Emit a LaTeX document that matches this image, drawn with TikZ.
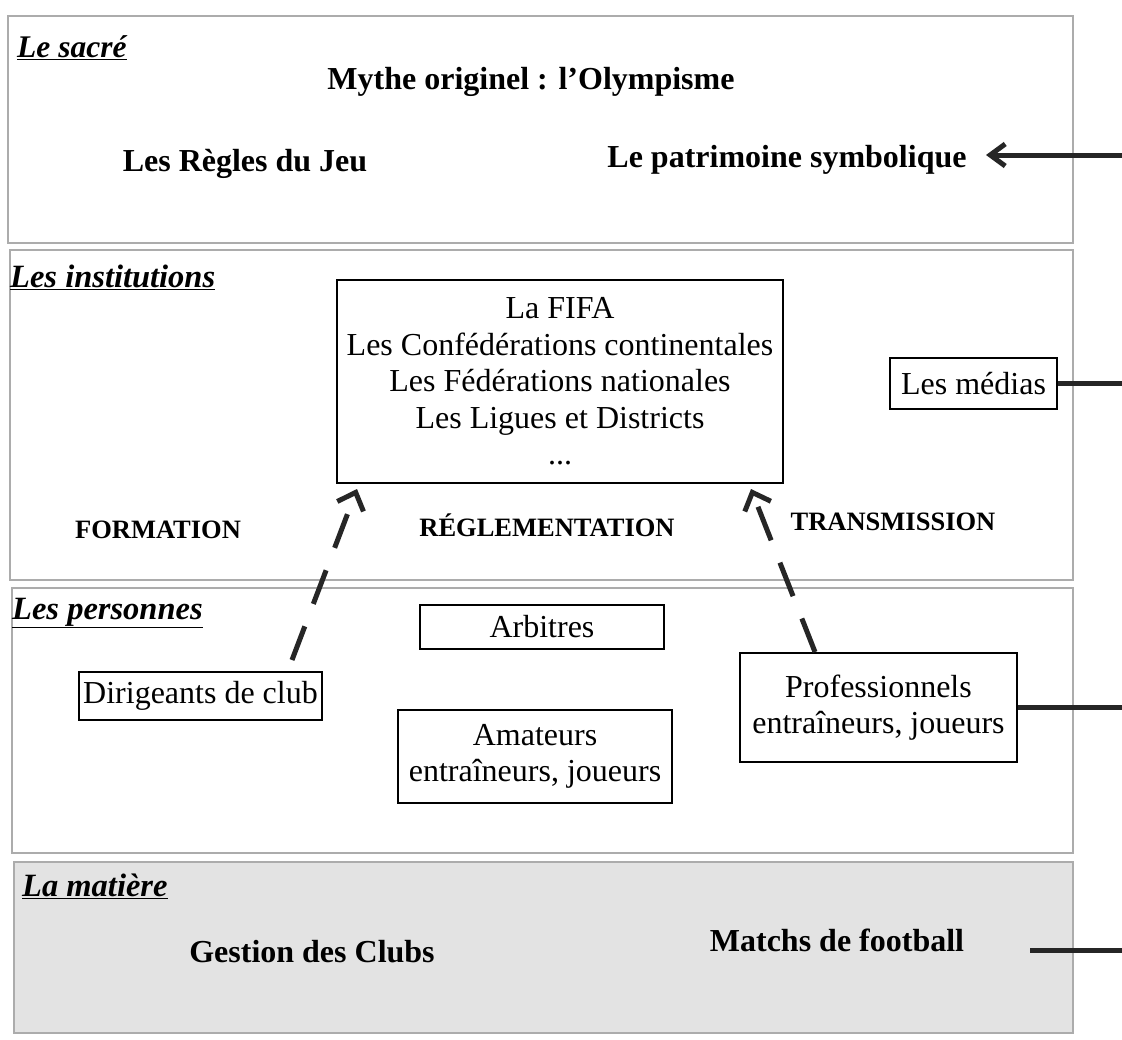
\documentclass[tikz,border=0pt]{standalone}
\usepackage{fontspec}
\setmainfont{Liberation Serif}
\usetikzlibrary{arrows.meta}
\definecolor{bandgray}{HTML}{E3E3E3}
\begin{document}
\begin{tikzpicture}[x=1pt,y=-1pt,
  band/.style={draw=gray!65,line width=1.2pt},
  seclabel/.style={anchor=west,inner sep=0pt,font=\fontsize{32.5}{34}\selectfont\bfseries\itshape},
  headtxt/.style={inner sep=0pt,font=\fontsize{32}{36}\selectfont\bfseries},
  captxt/.style={inner sep=0pt,font=\fontsize{26.5}{30}\selectfont\bfseries},
  boxnode/.style={draw=black,line width=2pt,inner sep=0pt,align=center,
    font=\fontsize{32}{36.5}\selectfont},
  edgeline/.style={line width=5pt,draw=black!85},
  dasharrow/.style={line width=5pt,draw=black!85,dash pattern=on 36pt off 24pt,
    -{Straight Barb[length=15pt,width=28pt,line width=5pt]}}
]
\useasboundingbox (0,0) rectangle (1122,1039);
\fill[white] (0,0) rectangle (1122,1039);

% bands
\draw[band] (8,16) rectangle (1073,243);
\draw[band] (10,250) rectangle (1073,580);
\draw[band] (12,588) rectangle (1073,853);
\draw[band,fill=bandgray] (14,862) rectangle (1073,1033);

% section labels
\node[seclabel,font=\fontsize{31.5}{34}\selectfont\bfseries\itshape] (l1) at (17,48) {\underline{Le sacré}};
\node[seclabel] (l2) at (10,277) {\underline{Les institutions}};
\node[seclabel] (l3) at (12,613) {\underline{Les personnes}};
\node[seclabel] (l4) at (22,886) {\underline{La matière}};

% le sacré
\node[headtxt] (mythe) at (531,82) {Mythe originel : l’Olympisme};
\node[headtxt] (regles) at (245,164) {Les Règles du Jeu};
\node[headtxt] (patri) at (787,160) {Le patrimoine symbolique};

% institutions
\node[boxnode,minimum width=446pt,minimum height=203pt] (fifa) at (560,381.5)
  {La FIFA\\Les Confédérations continentales\\Les Fédérations nationales\\Les Ligues et Districts\\...};
\node[boxnode,minimum width=167pt,minimum height=51pt] (medias) at (973.5,383.5) {Les médias};
\node[captxt] (form) at (158,530) {FORMATION};
\node[captxt] (regl) at (547,525) {RÉGLEMENTATION};
\node[captxt] (trans) at (893,522) {TRANSMISSION};

% personnes
\node[boxnode,minimum width=244pt,minimum height=44pt] (arb) at (542,627) {Arbitres};
\node[boxnode,minimum width=243pt,minimum height=48pt] (dir) at (200.5,696) {Dirigeants de club};
\node[boxnode,minimum width=274pt,minimum height=93pt] (ama) at (535,756.5) {Amateurs\\entraîneurs, joueurs};
\node[boxnode,minimum width=277pt,minimum height=109pt] (pro) at (878.5,707.5) {Professionnels\\entraîneurs, joueurs};

% matière
\node[headtxt] (gest) at (312,952) {Gestion des Clubs};
\node[headtxt] (match) at (837,940) {Matchs de football};

% connector coordinates
\coordinate (e1) at (1122,155);
\coordinate (ptip) at (986,155);
\coordinate (e4) at (1122,950);
\coordinate (m4) at (1030,950);
\coordinate (dstart) at (292,660);
\coordinate (dend) at (357,489);
\coordinate (pstart) at (815,652);
\coordinate (pend) at (751,489);

% connectors
\draw[edgeline,-{Straight Barb[length=15pt,width=22pt,line width=5pt]}] (e1) -- (ptip);
\draw[edgeline] (medias.east) -- (medias.east -| e1);
\draw[edgeline] (pro.east) -- (pro.east -| e1);
\draw[edgeline] (m4) -- (e4);
\draw[dasharrow] (dstart) -- (dend);
\draw[dasharrow] (pstart) -- (pend);
\end{tikzpicture}
\end{document}
